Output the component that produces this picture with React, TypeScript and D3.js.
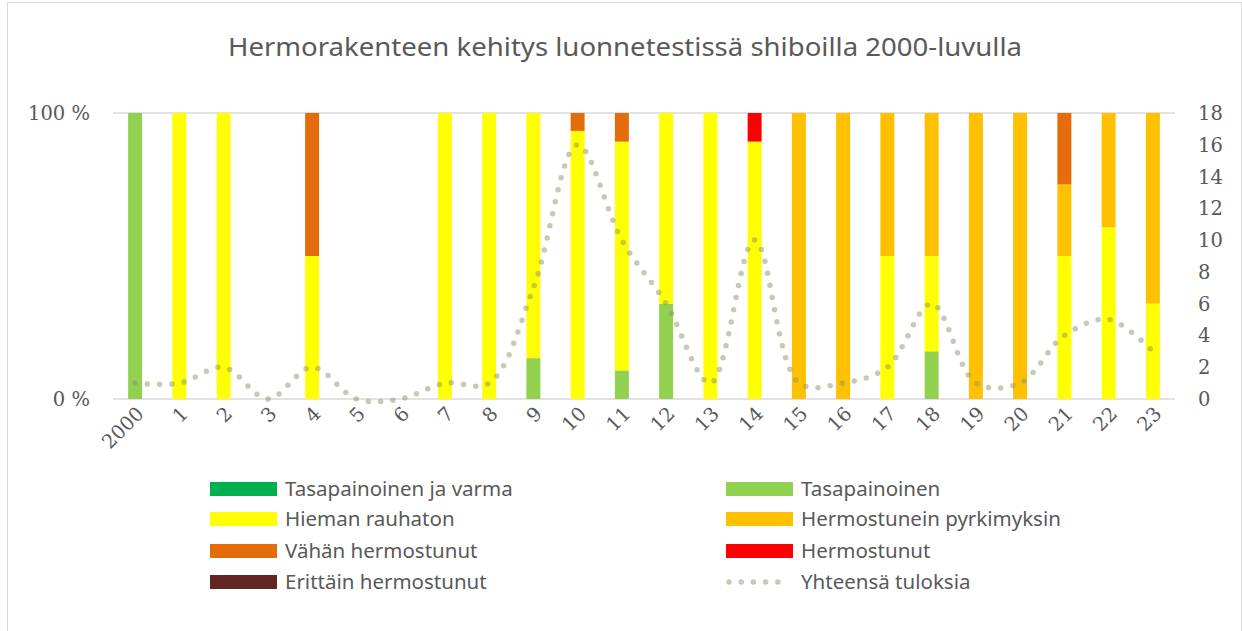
import React from "react";
import * as d3 from "d3";

// vuodet (2000, 1, 2 ... 23)
const years = ["2000", "1", "2", "3", "4", "5", "6", "7", "8", "9", "10", "11", "12", "13", "14", "15", "16", "17", "18", "19", "20", "21", "22", "23"];

// tulosten määrät luokittain
const tasapainoinenJaVarma = [0, 0, 0, 0, 0, 0, 0, 0, 0, 0, 0, 0, 0, 0, 0, 0, 0, 0, 0, 0, 0, 0, 0, 0];
const tasapainoinen = [1, 0, 0, 0, 0, 0, 0, 0, 0, 1, 0, 1, 2, 0, 0, 0, 0, 0, 1, 0, 0, 0, 0, 0];
const hiemanRauhaton = [0, 1, 2, 0, 1, 0, 0, 1, 1, 6, 15, 8, 4, 1, 9, 0, 0, 1, 2, 0, 0, 2, 3, 1];
const hermostuneinPyrkimyksin = [0, 0, 0, 0, 0, 0, 0, 0, 0, 0, 0, 0, 0, 0, 0, 1, 1, 1, 3, 1, 1, 1, 2, 2];
const vahanHermostunut = [0, 0, 0, 0, 1, 0, 0, 0, 0, 0, 1, 1, 0, 0, 0, 0, 0, 0, 0, 0, 0, 1, 0, 0];
const hermostunut = [0, 0, 0, 0, 0, 0, 0, 0, 0, 0, 0, 0, 0, 0, 1, 0, 0, 0, 0, 0, 0, 0, 0, 0];
const erittainHermostunut = [0, 0, 0, 0, 0, 0, 0, 0, 0, 0, 0, 0, 0, 0, 0, 0, 0, 0, 0, 0, 0, 0, 0, 0];

// yhteensä tuloksia (oikea akseli)
const totals = [1, 1, 2, 0, 2, 0, 0, 1, 1, 7, 16, 10, 6, 1, 10, 1, 1, 2, 6, 1, 1, 4, 5, 3];

const series = [
  { name: "Tasapainoinen ja varma", values: tasapainoinenJaVarma, color: "#00B050" },
  { name: "Tasapainoinen", values: tasapainoinen, color: "#92D050" },
  { name: "Hieman rauhaton", values: hiemanRauhaton, color: "#FFFF00" },
  { name: "Hermostunein pyrkimyksin", values: hermostuneinPyrkimyksin, color: "#FFC000" },
  { name: "Vähän hermostunut", values: vahanHermostunut, color: "#E46C0A" },
  { name: "Hermostunut", values: hermostunut, color: "#FF0000" },
  { name: "Erittäin hermostunut", values: erittainHermostunut, color: "#632523" },
];

const rightTicks = [0, 2, 4, 6, 8, 10, 12, 14, 16, 18];

const W = 1242;
const H = 631;
const left = 113;
const right = 1175;
const top = 113;
const bottom = 399;

const lineColor = "#8A966C";
const serif = "'DejaVu Serif', serif";
const sans = "'Noto Sans', 'Open Sans', sans-serif";

export default function App() {
  const x = d3.scaleBand<string>().domain(years).range([left, right]).paddingInner(0.684).paddingOuter(0.342);
  const yPct = d3.scaleLinear().domain([0, 1]).range([bottom, top]);
  const yCount = d3.scaleLinear().domain([0, 18]).range([bottom, top]);

  // rivit pinoa varten, osuudet prosentteina
  const rows = years.map((yr, i) => {
    const row: Record<string, number | string> = { year: yr };
    const sum = d3.sum(series, (s) => s.values[i]);
    series.forEach((s) => {
      row[s.name] = sum > 0 ? s.values[i] / sum : 0;
    });
    return row;
  });
  const stack = d3.stack<any>().keys(series.map((s) => s.name));
  const stacked = stack(rows);

  const line = d3
    .line<number>()
    .x((_, i) => (x(years[i]) as number) + x.bandwidth() / 2)
    .y((d) => yCount(d))
    .curve(d3.curveCatmullRom.alpha(0.5));

  const legendRows = [489, 519, 551, 582];
  const legendCols = [210, 726];

  return (
    <div style={{ position: "absolute", left: 0, top: 0 }}>
      <svg width={W} height={H} style={{ display: "block", background: "#fff" }}>
        <rect x={7.5} y={2.5} width={1234} height={640} fill="#fff" stroke="#D9D9D9" strokeWidth={1} />

        <text x={625} y={56} textAnchor="middle" fontFamily={sans} fontSize={25} fill="#595959" textLength={794} lengthAdjust="spacingAndGlyphs">
          Hermorakenteen kehitys luonnetestissä shiboilla 2000-luvulla
        </text>

        {/* ruudukko */}
        {[0, 1].map((v) => (
          <line key={v} x1={left} x2={right} y1={yPct(v)} y2={yPct(v)} stroke="#D9D9D9" strokeWidth={1.5} />
        ))}

        {/* pinotut pylväät */}
        {stacked.map((layer, si) => (
          <g key={si} fill={series[si].color}>
            {layer.map((d, i) =>
              d[1] - d[0] > 0 ? (
                <rect key={i} x={x(years[i])} width={x.bandwidth()} y={yPct(d[1])} height={yPct(d[0]) - yPct(d[1])} />
              ) : null
            )}
          </g>
        ))}

        {/* yhteensä-viiva */}
        <path d={line(totals) || ""} fill="none" stroke={lineColor} strokeOpacity={0.5} strokeWidth={5.5} strokeLinecap="round" strokeDasharray="0 12.3" />

        {/* vasen akseli */}
        {[0, 1].map((v) => (
          <text key={v} x={90} y={yPct(v) + 7} textAnchor="end" fontFamily={serif} fontSize={19.5} fill="#595959">
            {v * 100} %
          </text>
        ))}

        {/* oikea akseli */}
        {rightTicks.map((v) => (
          <text key={v} x={1198} y={yCount(v) + 7} textAnchor="start" fontFamily={serif} fontSize={19.5} fill="#595959">
            {v}
          </text>
        ))}

        {/* x-akseli */}
        {years.map((yr) => {
          const cx = (x(yr) as number) + x.bandwidth() / 2 + 6;
          const cy = 411;
          return (
            <text key={yr} x={cx} y={cy} transform={`rotate(-45 ${cx} ${cy})`} textAnchor="end" fontFamily={serif} fontSize={19.5} fill="#595959" dominantBaseline="middle">
              {yr}
            </text>
          );
        })}

        {/* selite */}
        {series.map((s, i) => {
          const col = legendCols[i % 2];
          const cy = legendRows[Math.floor(i / 2)];
          return (
            <g key={s.name}>
              <rect x={col} y={cy - 7} width={67} height={14} fill={s.color} />
              <text x={col + 75} y={cy + 7} fontFamily={sans} fontSize={20.5} fill="#595959">
                {s.name}
              </text>
            </g>
          );
        })}
        <g>
          <line x1={legendCols[1] + 3} x2={legendCols[1] + 64} y1={legendRows[3]} y2={legendRows[3]} stroke={lineColor} strokeOpacity={0.5} strokeWidth={5.5} strokeLinecap="round" strokeDasharray="0 12.2" />
          <text x={legendCols[1] + 75} y={legendRows[3] + 7} fontFamily={sans} fontSize={20.5} fill="#595959">
            Yhteensä tuloksia
          </text>
        </g>
      </svg>
    </div>
  );
}
